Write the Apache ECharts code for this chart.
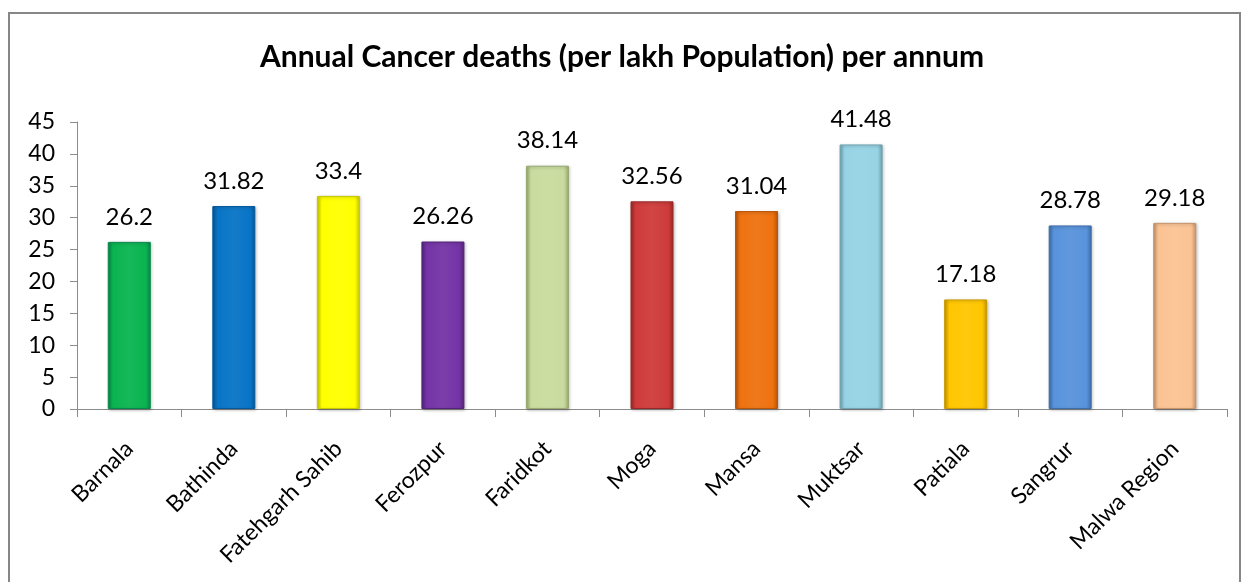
<!DOCTYPE html>
<html>
<head>
<meta charset="utf-8">
<script src="https://cdn.jsdelivr.net/npm/echarts@6/dist/echarts.min.js"></script>
<style>
html,body{margin:0;padding:0;background:#fff;}
#chart{width:1244px;height:582px;}
</style>
</head>
<body>
<div id="chart"></div>
<script>
const categories = ["Barnala","Bathinda","Fatehgarh Sahib","Ferozpur","Faridkot","Moga","Mansa","Muktsar","Patiala","Sangrur","Malwa Region"];
const values = [26.2, 31.82, 33.4, 26.26, 38.14, 32.56, 31.04, 41.48, 17.18, 28.78, 29.18];
const barColors = ["#0AB450","#0874C6","#FFFF00","#7434A6","#C9DB9E","#CF3B3B","#EE7210","#96D3E4","#FFC600","#5893DB","#FBC394"];
const barEdge = ["#07884A","#05589A","#C8C800","#55237A","#9AAA72","#9A2828","#B85508","#6FA3B2","#C89A00","#3E6EAA","#C8946A"];
const yTicks = {min:0, max:45, interval:5};
const titleText = "Annual Cancer deaths (per lakh Population) per annum";

function shade(hex, f){
  const n = parseInt(hex.slice(1),16);
  let r=(n>>16)&255,g=(n>>8)&255,b=n&255;
  const mix = f>0?255:0, t=Math.abs(f);
  r=Math.round(r+(mix-r)*t);g=Math.round(g+(mix-g)*t);b=Math.round(b+(mix-b)*t);
  return 'rgb('+r+','+g+','+b+')';
}

const data = values.map((v,i)=>({
  value:v,
  itemStyle:{
    color:{type:'linear',x:0,y:0,x2:1,y2:0,colorStops:[
      {offset:0,color:barEdge[i]},
      {offset:0.12,color:barColors[i]},
      {offset:0.5,color:shade(barColors[i],0.05)},
      {offset:0.88,color:barColors[i]},
      {offset:1,color:barEdge[i]}
    ]},
    borderColor:barEdge[i],
    borderWidth:1,
    shadowColor:'rgba(0,0,0,0.25)',
    shadowBlur:3,
    shadowOffsetX:1,
    shadowOffsetY:1
  }
}));

const chart = echarts.init(document.getElementById('chart'), null, {renderer:'canvas'});
chart.setOption({
  backgroundColor:'#fff',
  animation:false,
  title:{
    text:titleText,
    left:'center',
    top:37,
    textStyle:{fontFamily:'Lato',fontWeight:'bold',fontSize:30,color:'#000'}
  },
  graphic:[{
    type:'rect',
    shape:{x:9,y:13,width:1231,height:600},
    style:{fill:'none',stroke:'#878787',lineWidth:2},
    silent:true
  }],
  grid:{left:77,right:17,top:122,bottom:173,containLabel:false},
  xAxis:{
    type:'category',
    data:categories,
    axisLine:{lineStyle:{color:'#8C8C8C',width:1}},
    axisTick:{show:true,length:8,lineStyle:{color:'#8C8C8C'},alignWithLabel:false},
    axisLabel:{rotate:45,interval:0,margin:36,fontFamily:'Lato',fontSize:23,color:'#000'}
  },
  yAxis:{
    type:'value',
    min:yTicks.min,max:yTicks.max,interval:yTicks.interval,
    axisLine:{show:true,lineStyle:{color:'#8C8C8C',width:1}},
    axisTick:{show:true,length:7,lineStyle:{color:'#8C8C8C'}},
    splitLine:{show:false},
    axisLabel:{margin:22,fontFamily:'Lato',fontSize:23,color:'#000'}
  },
  series:[{
    type:'bar',
    data:data,
    barWidth:43,
    label:{show:true,position:'top',distance:13,fontFamily:'Lato',fontSize:24,color:'#000'}
  }]
});
</script>
</body>
</html>
